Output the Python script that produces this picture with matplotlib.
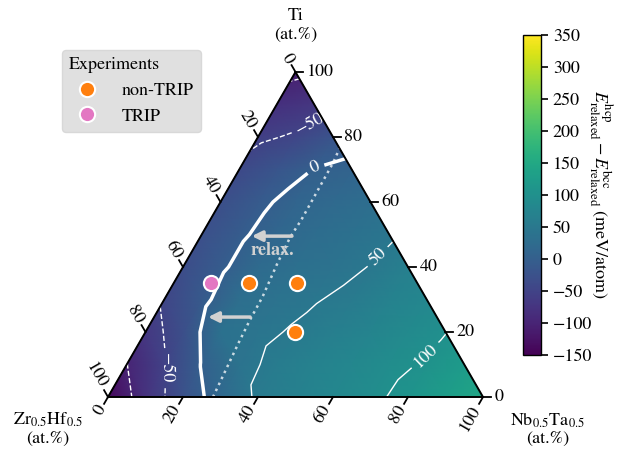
import numpy as np
import matplotlib
matplotlib.use('Agg')
import matplotlib.pyplot as plt
import matplotlib.tri as mtri
from matplotlib.lines import Line2D

plt.rcParams['font.family'] = 'serif'
plt.rcParams['font.serif'] = ['STIXGeneral', 'Liberation Serif', 'DejaVu Serif']
plt.rcParams['mathtext.fontset'] = 'stix'
plt.rcParams['font.size'] = 13

# E_hcp - E_bcc relaxed (meV/atom) on a 10 at.% grid
# one list per Ti row (Ti = 0, 10, ... 100), Nb0.5Ta0.5 going 0, 10, ...
e_ti00 = [-140, -77, -25, 19, 56, 68, 81, 94, 108, 126, 145]
e_ti10 = [-101, -52, 2, 40, 58, 70, 82, 93, 103, 122]
e_ti20 = [-68, -30, 36, 44, 53, 64, 76, 88, 99]
e_ti30 = [-45, -10, 30, 40, 48, 57, 69, 82]
e_ti40 = [-33, -6, 22, 32, 41, 51, 65]
e_ti50 = [-28, -6, 16, 26, 36, 46]
e_ti60 = [-30, -8, 12, 20, 28]
e_ti70 = [-40, -18, 1, 10]
e_ti80 = [-57, -45, -20]
e_ti90 = [-80, -70]
e_ti100 = [-108]
grid_step = 0.1

# unrelaxed 0 meV/atom boundary (dotted line)
unrel_nb = [0.28, 0.265, 0.26, 0.258, 0.246, 0.24, 0.243, 0.24, 0.235]
unrel_ti = [0.0, 0.166, 0.237, 0.308, 0.412, 0.492, 0.545, 0.72, 0.765]

# experiments
nontrip_nb = [0.20, 0.33, 0.40]
nontrip_ti = [0.35, 0.35, 0.20]
trip_nb = [0.10]
trip_ti = [0.35]

# "relax." arrows (Nb, Ti) tail -> tip
arrow_tail = [(0.243, 0.495), (0.256, 0.246)]
arrow_tip = [(0.136, 0.495), (0.144, 0.246)]
relax_pos = (0.211, 0.452)

tern_ticks = [0, 20, 40, 60, 80, 100]
cbar_ticks = list(range(-150, 351, 50))

# contour levels and where their labels sit (data coords, None = no label)
contour_levels = [-100, -50, 0, 50, 100]
contour_widths = [1.0, 1.0, 2.5, 1.0, 1.0]
label_spots = [None, [(0.535, 0.732), (0.152, 0.077)], [(0.552, 0.613)],
               [(0.709, 0.384)], [(0.845, 0.112)]]

H = np.sqrt(3) / 2


def to_xy(nb, ti):
    nb = np.asarray(nb, float)
    ti = np.asarray(ti, float)
    return nb + ti / 2, ti * H


def minus_fmt(v):
    return f'{v:.0f}'.replace('-', '\u2212')


rows = [e_ti00, e_ti10, e_ti20, e_ti30, e_ti40, e_ti50,
        e_ti60, e_ti70, e_ti80, e_ti90, e_ti100]
g_nb, g_ti, g_e = [], [], []
for j, row in enumerate(rows):
    for i, v in enumerate(row):
        g_nb.append(i * grid_step)
        g_ti.append(j * grid_step)
        g_e.append(v)
gx, gy = to_xy(g_nb, g_ti)
tri = mtri.Triangulation(gx, gy)
g_e = np.array(g_e, float)

fig = plt.figure(figsize=(6.23, 4.49), dpi=100)
ax = fig.add_axes([108 / 623, 52 / 449, 375 / 623, 325 / 449])
ax.set_xlim(0, 1)
ax.set_ylim(0, H)
ax.axis('off')

tpc = ax.tripcolor(tri, g_e, shading='gouraud', cmap='viridis', vmin=-150, vmax=350)

for lev, lw, spots in zip(contour_levels, contour_widths, label_spots):
    cs = ax.tricontour(tri, g_e, levels=[lev], colors='white', linewidths=lw)
    if spots:
        ax.clabel(cs, fmt=minus_fmt, fontsize=13, inline_spacing=5, manual=spots)

ux, uy = to_xy(unrel_nb, unrel_ti)
ax.plot(ux, uy, color='white', ls=':', lw=1.8, alpha=0.75)

for tail, tip in zip(arrow_tail, arrow_tip):
    ax.annotate('', xy=to_xy(*tip), xytext=to_xy(*tail),
                arrowprops=dict(arrowstyle='-|>', color='0.82', lw=2.5,
                                mutation_scale=15, shrinkA=0, shrinkB=0))
rx, ry = to_xy(*relax_pos)
ax.text(rx, ry, 'relax.', color='0.82', fontweight='bold', ha='center', va='center')

# triangle frame
fx, fy = to_xy([0, 1, 0, 0], [0, 0, 1, 0])
ax.plot(fx, fy, color='black', lw=1.4, clip_on=False, zorder=4)

L = 0.021
gap = 0.009
for t in tern_ticks:
    f = t / 100
    # Ti (right edge)
    bx, by = to_xy(1 - f, f)
    ax.plot([bx, bx + L], [by, by], color='black', lw=1.3, clip_on=False)
    ax.text(bx + L + gap, by, str(t), ha='left', va='center')
    # Zr0.5Hf0.5 (left edge)
    bx, by = to_xy(0, 1 - f)
    dx, dy = -0.5, H
    ax.plot([bx, bx + L * dx], [by, by + L * dy], color='black', lw=1.3, clip_on=False)
    ax.text(bx + (L + gap) * dx, by + (L + gap) * dy, str(t), rotation=-60,
            rotation_mode='anchor', ha='right', va='center')
    # Nb0.5Ta0.5 (bottom edge)
    bx, by = to_xy(f, 0)
    dx, dy = -0.5, -H
    ax.plot([bx, bx + L * dx], [by, by + L * dy], color='black', lw=1.3, clip_on=False)
    ax.text(bx + (L + gap) * dx, by + (L + gap) * dy, str(t), rotation=60,
            rotation_mode='anchor', ha='right', va='center')

ax.text(0.5, 0.99, 'Ti\n(at.%)', ha='center', va='center', linespacing=1.2)
ax.text(-0.16, -0.085, 'Zr$_{0.5}$Hf$_{0.5}$\n(at.%)', ha='center', va='center',
        linespacing=1.1)
ax.text(1.173, -0.085, 'Nb$_{0.5}$Ta$_{0.5}$\n(at.%)', ha='center', va='center',
        linespacing=1.1)

nx, ny = to_xy(nontrip_nb, nontrip_ti)
ax.scatter(nx, ny, s=120, color='#ff7f0e', edgecolors='white', linewidths=1.5,
           zorder=6, clip_on=False)
px, py = to_xy(trip_nb, trip_ti)
ax.scatter(px, py, s=120, color='#e377c2', edgecolors='white', linewidths=1.5,
           zorder=6, clip_on=False)

handles = [Line2D([], [], ls='none', marker='o', ms=11, mfc='#ff7f0e', mec='white', mew=1.5),
           Line2D([], [], ls='none', marker='o', ms=11, mfc='#e377c2', mec='white', mew=1.5)]
leg = fig.legend(handles, ['non-TRIP', 'TRIP'], title='Experiments', loc='upper left',
                 bbox_to_anchor=(62 / 623, 1 - 50 / 449), alignment='left',
                 facecolor='#e0e0e0', edgecolor='#d8d8d8', framealpha=1,
                 fontsize=13, title_fontsize=13, borderaxespad=0,
                 labelspacing=0.5, handletextpad=0.9)

cax = fig.add_axes([523 / 623, 94 / 449, 18 / 623, 320 / 449])
cb = fig.colorbar(tpc, cax=cax, ticks=cbar_ticks)
cb.ax.tick_params(length=5, width=1.2, labelsize=13)
cb.outline.set_linewidth(1.0)
fig.text(601 / 623, 1 - 195 / 449,
         r'$E^{\mathrm{hcp}}_{\mathrm{relaxed}} - E^{\mathrm{bcc}}_{\mathrm{relaxed}}$ (meV/atom)',
         rotation=270, ha='center', va='center')

fig.savefig('out.png', dpi=100)
